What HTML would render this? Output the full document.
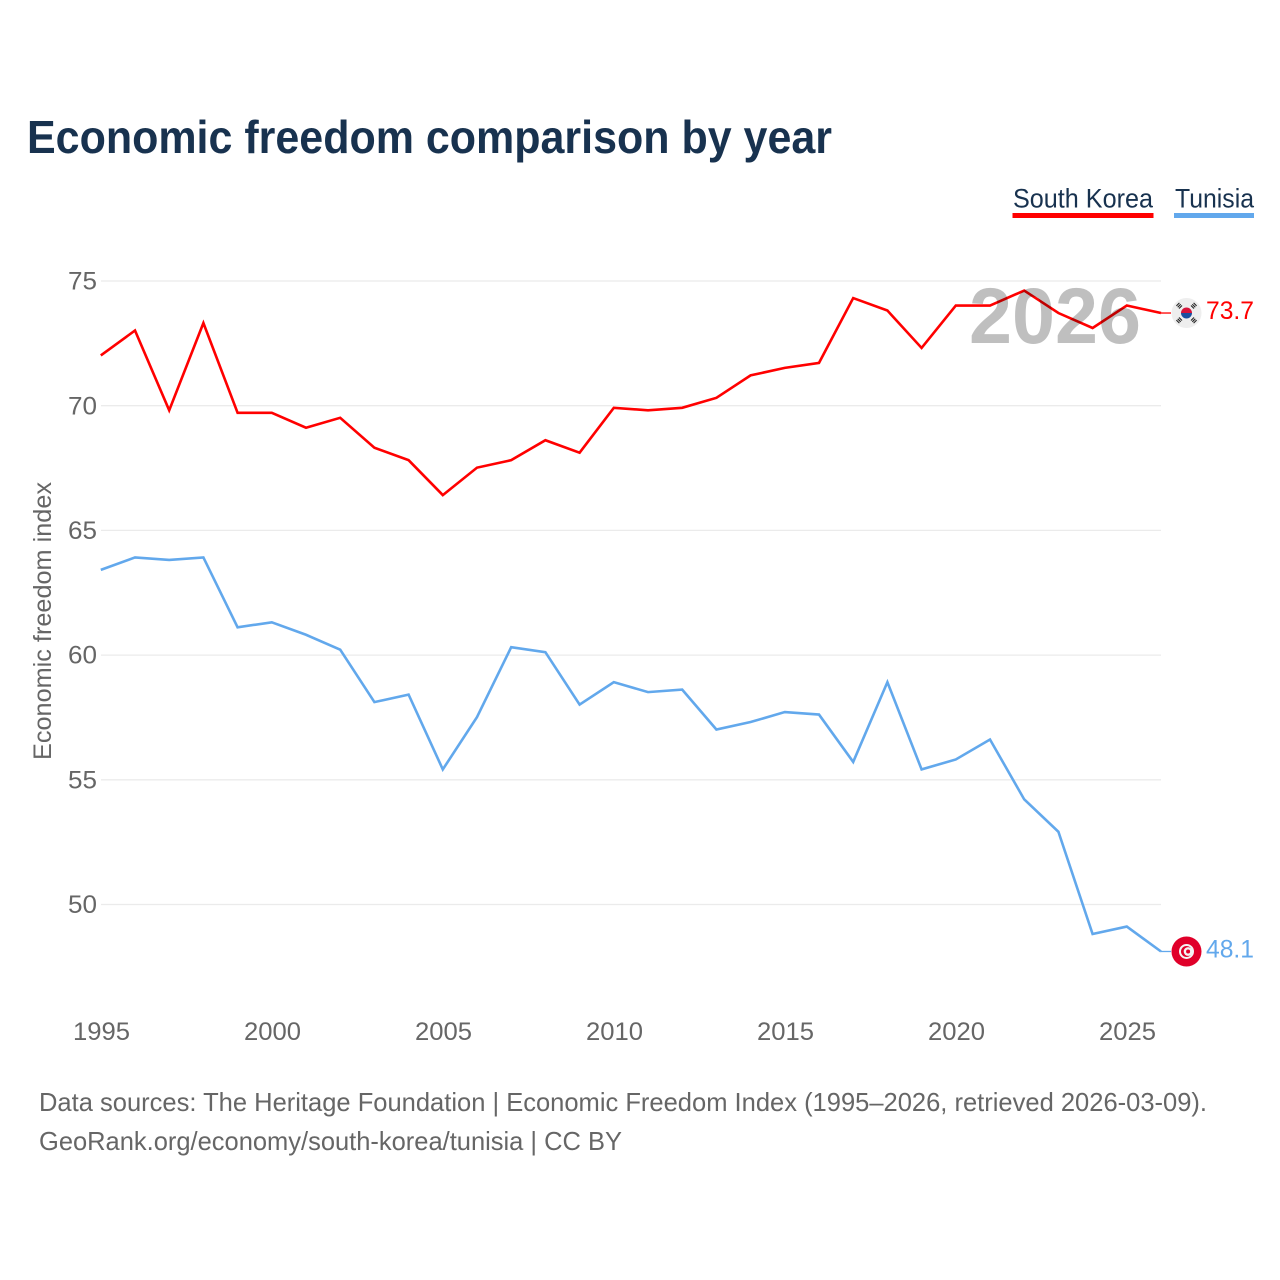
<!DOCTYPE html>
<html lang="en">
<head>
<meta charset="utf-8">
<title>Economic freedom comparison by year</title>
<style>
html,body{margin:0;padding:0;background:#fff;}
svg{display:block;font-family:"Liberation Sans",sans-serif;}
</style>
</head>
<body>
<svg id="chart" xmlns="http://www.w3.org/2000/svg" width="1280" height="1280" viewBox="0 0 1280 1280">
  <rect x="0" y="0" width="1280" height="1280" fill="#ffffff"/>
  <text x="27" y="153" font-size="46" font-weight="700" fill="#18324f" textLength="805" lengthAdjust="spacingAndGlyphs">Economic freedom comparison by year</text>

  <g>
    <text x="1013" y="207.5" font-size="27" fill="#18324f" textLength="140" lengthAdjust="spacingAndGlyphs">South Korea</text>
    <rect x="1012.5" y="213" width="141" height="5" fill="#ff0000"/>
  </g>
  <g>
    <text x="1175" y="207.5" font-size="27" fill="#18324f" textLength="79" lengthAdjust="spacingAndGlyphs">Tunisia</text>
    <rect x="1174" y="213" width="80" height="5" fill="#62a8ec"/>
  </g>

  <g id="grid"></g>
  <g id="yticks"></g>
  <g id="xticks"></g>

  <text transform="translate(51 621) rotate(-90)" text-anchor="middle" font-size="25" fill="#666666" textLength="278" lengthAdjust="spacingAndGlyphs">Economic freedom index</text>

  <g id="series"></g>

  <text x="969" y="343" font-size="79" font-weight="700" fill="#000000" fill-opacity="0.25" textLength="172" lengthAdjust="spacingAndGlyphs">2026</text>

  <g id="flag-kr" transform="translate(1186.5 313)">
    <circle r="15" fill="#eeeeee"/>
    <path d="M-5.5 0a5.5 5.5 0 0 1 11 0z" fill="#d8143a"/>
    <path d="M-5.5 0a5.5 5.5 0 0 0 11 0z" fill="#1a4fa0"/>
    <g stroke="#222222" stroke-width="1.1" fill="none">
      <path d="M-10.1 -7.1l3 -3M-8.8 -5.8l3 -3M-7.5 -4.5l3 -3"/>
      <path d="M10.1 -7.1l-3 -3M8.8 -5.8l-3 -3M7.5 -4.5l-3 -3"/>
      <path d="M-10.1 7.1l3 3M-8.8 5.8l3 3M-7.5 4.5l3 3"/>
      <path d="M10.1 7.1l-3 3M8.8 5.8l-3 3M7.5 4.5l-3 3"/>
    </g>
  </g>
  <g id="flag-tn" transform="translate(1186.5 951)">
    <circle r="15" fill="#e0002a"/>
    <circle r="7.5" fill="#f4f4f4"/>
    <circle r="5.5" fill="#e0002a"/>
    <circle cx="1.6" r="4.4" fill="#f4f4f4"/>
    <circle cx="1.6" r="2" fill="#e0002a"/>
  </g>

  <text id="label-kr" x="1254" y="320" text-anchor="end" font-size="25" fill="#ff0000" textLength="48" lengthAdjust="spacingAndGlyphs"></text>
  <text id="label-tn" x="1254" y="958" text-anchor="end" font-size="25" fill="#62a8ec" textLength="48" lengthAdjust="spacingAndGlyphs"></text>

  <text x="39" y="1111" font-size="26" fill="#666666" textLength="1168" lengthAdjust="spacingAndGlyphs">Data sources: The Heritage Foundation | Economic Freedom Index (1995–2026, retrieved 2026-03-09).</text>
  <text x="39" y="1150" font-size="26" fill="#666666" textLength="583" lengthAdjust="spacingAndGlyphs">GeoRank.org/economy/south-korea/tunisia | CC BY</text>
</svg>
<script>
const years = [1995,1996,1997,1998,1999,2000,2001,2002,2003,2004,2005,2006,2007,2008,2009,2010,2011,2012,2013,2014,2015,2016,2017,2018,2019,2020,2021,2022,2023,2024,2025,2026];
const southKorea = [72.0,73.0,69.8,73.3,69.7,69.7,69.1,69.5,68.3,67.8,66.4,67.5,67.8,68.6,68.1,69.9,69.8,69.9,70.3,71.2,71.5,71.7,74.3,73.8,72.3,74.0,74.0,74.6,73.7,73.1,74.0,73.7];
const tunisia = [63.4,63.9,63.8,63.9,61.1,61.3,60.8,60.2,58.1,58.4,55.4,57.5,60.3,60.1,58.0,58.9,58.5,58.6,57.0,57.3,57.7,57.6,55.7,58.9,55.4,55.8,56.6,54.2,52.9,48.8,49.1,48.1];
const yTicks = [50,55,60,65,70,75];
const xTicks = [1995,2000,2005,2010,2015,2020,2025];

const NS = 'http://www.w3.org/2000/svg';
function xScale(year) { return 100.8 + (year - 1995) * 34.2; }
function yScale(value) { return 280.6 + (75 - value) * 24.94; }

const grid = document.getElementById('grid');
const yGroup = document.getElementById('yticks');
const xGroup = document.getElementById('xticks');
const seriesGroup = document.getElementById('series');

yTicks.forEach(function (tick) {
  const line = document.createElementNS(NS, 'line');
  
  
  line.setAttribute('x1', 101);
  line.setAttribute('x2', xScale(2026));
  line.setAttribute('y1', yScale(tick) + 0.4);
  line.setAttribute('y2', yScale(tick) + 0.4);
  line.setAttribute('stroke', '#ebebeb');
  line.setAttribute('stroke-width', 1.3);
  grid.appendChild(line);

  const label = document.createElementNS(NS, 'text');
  
  
  label.setAttribute('x', 97);
  label.setAttribute('y', yScale(tick) + 9);
  label.setAttribute('text-anchor', 'end');
  label.setAttribute('font-size', 25);
  label.setAttribute('fill', '#666666');
  label.setAttribute('textLength', 29);
  label.setAttribute('lengthAdjust', 'spacingAndGlyphs');
  label.textContent = tick;
  yGroup.appendChild(label);
});

xTicks.forEach(function (tick) {
  const label = document.createElementNS(NS, 'text');
  
  
  label.setAttribute('x', xScale(tick) + 0.7);
  label.setAttribute('y', 1040);
  label.setAttribute('text-anchor', 'middle');
  label.setAttribute('font-size', 25);
  label.setAttribute('fill', '#666666');
  label.setAttribute('textLength', 57);
  label.setAttribute('lengthAdjust', 'spacingAndGlyphs');
  label.textContent = tick;
  xGroup.appendChild(label);
});

function pathFor(values) {
  return values.map(function (value, i) {
    return (i ? 'L' : 'M') + xScale(years[i]).toFixed(2) + ' ' + yScale(value).toFixed(2);
  }).join(' ');
}

const krLine = document.createElementNS(NS, 'path');


krLine.setAttribute('d', pathFor(southKorea));
krLine.setAttribute('fill', 'none');
krLine.setAttribute('stroke', '#ff0000');
krLine.setAttribute('stroke-width', 2.6);
krLine.setAttribute('stroke-linejoin', 'miter');
seriesGroup.appendChild(krLine);

const tnLine = document.createElementNS(NS, 'path');


tnLine.setAttribute('d', pathFor(tunisia));
tnLine.setAttribute('fill', 'none');
tnLine.setAttribute('stroke', '#62a8ec');
tnLine.setAttribute('stroke-width', 2.6);
tnLine.setAttribute('stroke-linejoin', 'miter');
seriesGroup.appendChild(tnLine);

const krLast = southKorea[southKorea.length - 1];
const tnLast = tunisia[tunisia.length - 1];

const krLeader = document.createElementNS(NS, 'line');


krLeader.setAttribute('x1', xScale(2026));
krLeader.setAttribute('x2', 1171);
krLeader.setAttribute('y1', yScale(krLast));
krLeader.setAttribute('y2', yScale(krLast));
krLeader.setAttribute('stroke', '#ff0000');
krLeader.setAttribute('stroke-width', 1.3);
seriesGroup.appendChild(krLeader);

const tnLeader = document.createElementNS(NS, 'line');


tnLeader.setAttribute('x1', xScale(2026));
tnLeader.setAttribute('x2', 1171);
tnLeader.setAttribute('y1', yScale(tnLast));
tnLeader.setAttribute('y2', yScale(tnLast));
tnLeader.setAttribute('stroke', '#62a8ec');
tnLeader.setAttribute('stroke-width', 1.3);
seriesGroup.appendChild(tnLeader);

document.getElementById('flag-kr').setAttribute('transform', 'translate(1186.5 ' + yScale(krLast).toFixed(2) + ')');
document.getElementById('flag-tn').setAttribute('transform', 'translate(1186.5 ' + yScale(tnLast).toFixed(2) + ')');
document.getElementById('label-kr').textContent = krLast.toFixed(1);
document.getElementById('label-tn').textContent = tnLast.toFixed(1);
document.getElementById('label-kr').setAttribute('y', (yScale(krLast) + 6).toFixed(2));
document.getElementById('label-tn').setAttribute('y', (yScale(tnLast) + 6).toFixed(2));
</script>
</body>
</html>
